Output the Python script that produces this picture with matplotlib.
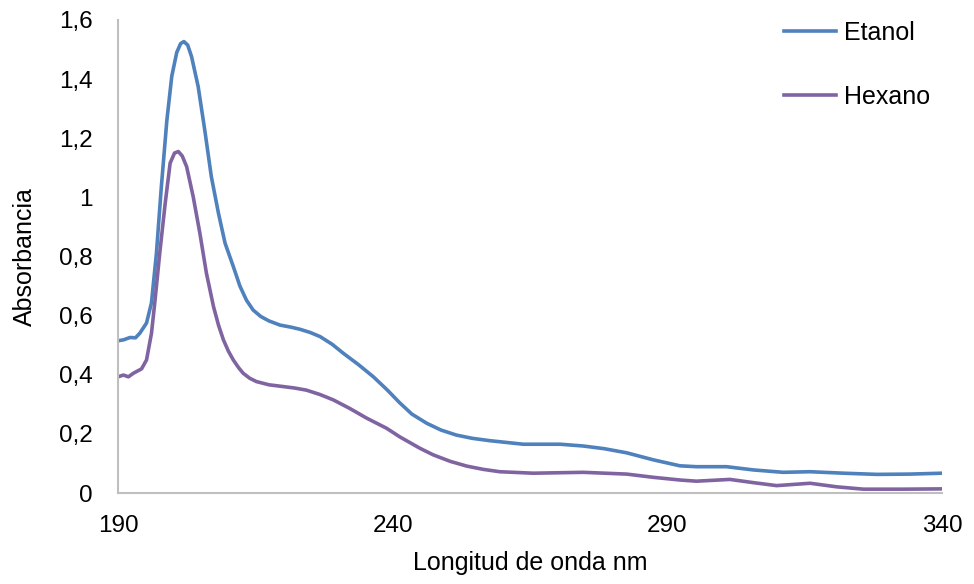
import matplotlib
matplotlib.use("Agg")
import matplotlib.pyplot as plt
from matplotlib.ticker import FuncFormatter, MultipleLocator

plt.rcParams["font.family"] = ["Liberation Sans", "DejaVu Sans"]

# wavelength (nm) and absorbance
etanol_nm = [190, 191, 192.2, 193.2, 194.0, 195.2, 196.1, 197.0, 197.9, 198.9,
             199.8, 200.7, 201.4, 202.0, 202.7, 203.4, 204.6, 205.8, 207.0, 208.3,
             209.5, 211.0, 212.2, 213.4, 214.6, 216.0, 217.5, 219.5, 221.5, 223.1,
             225.0, 226.8, 229.0, 231.0, 233.8, 236.5, 239.0, 241.3, 243.5, 246.2,
             248.8, 251.6, 254.5, 257.7, 263.8, 270.5, 274.7, 278.5, 282.6, 287.5,
             292.3, 295.3, 300.8, 305.7, 311.1, 316.0, 322.1, 328.2, 334.2, 340]
etanol_abs = [0.515, 0.518, 0.526, 0.525, 0.541, 0.575, 0.643, 0.81, 1.036, 1.26,
              1.41, 1.49, 1.52, 1.527, 1.515, 1.476, 1.375, 1.228, 1.07, 0.946,
              0.845, 0.766, 0.70, 0.652, 0.619, 0.597, 0.582, 0.568, 0.561, 0.554,
              0.543, 0.529, 0.503, 0.473, 0.434, 0.393, 0.349, 0.305, 0.267, 0.236,
              0.213, 0.196, 0.185, 0.177, 0.165, 0.165, 0.159, 0.150, 0.136, 0.112,
              0.092, 0.089, 0.089, 0.078, 0.070, 0.072, 0.067, 0.063, 0.064, 0.067]

hexano_nm = [190, 191, 191.9, 192.8, 194.3, 195.2, 196.1, 196.7, 197.6, 198.6,
             199.5, 200.3, 201.0, 201.7, 202.5, 203.7, 204.9, 206.1, 207.4, 208.3,
             209.2, 210.1, 211.0, 212.0, 212.8, 214.0, 215.2, 217.5, 220.1, 222.2,
             224.3, 226.8, 229.2, 232.2, 235.3, 238.9, 241.3, 245.0, 247.4, 250.5,
             253.5, 256.5, 259.5, 265.6, 274.7, 282.6, 287.5, 292.3, 295.3, 301.4,
             305.7, 309.9, 316.0, 320.8, 325.7, 333.0, 340]
hexano_abs = [0.393, 0.399, 0.393, 0.405, 0.42, 0.45, 0.54, 0.643, 0.81, 0.98,
              1.116, 1.15, 1.155, 1.14, 1.104, 1.002, 0.88, 0.744, 0.63, 0.568,
              0.518, 0.480, 0.450, 0.423, 0.405, 0.388, 0.377, 0.366, 0.36, 0.355,
              0.348, 0.333, 0.315, 0.286, 0.253, 0.219, 0.19, 0.151, 0.129, 0.107,
              0.091, 0.080, 0.072, 0.067, 0.070, 0.064, 0.053, 0.044, 0.040, 0.046,
              0.035, 0.025, 0.033, 0.021, 0.013, 0.013, 0.014]

x_ticks = [190, 240, 290, 340]


def comma_fmt(v, pos):
    return f"{v:g}".replace(".", ",")


fig = plt.figure(figsize=(9.74, 5.84), dpi=100)
ax = fig.add_axes([0.1211, 0.1558, 0.846, 0.81])

ax.plot(etanol_nm, etanol_abs, color="#4F81BD", lw=2.6, label="Etanol")
ax.plot(hexano_nm, hexano_abs, color="#8064A2", lw=2.6, label="Hexano")

ax.set_xlim(190, 340)
ax.set_ylim(0, 1.6)
ax.set_xticks(x_ticks)
ax.yaxis.set_major_locator(MultipleLocator(0.2))
ax.yaxis.set_major_formatter(FuncFormatter(comma_fmt))
ax.tick_params(length=0, labelsize=17.5, colors="black")
ax.tick_params(axis="y", pad=18)
ax.tick_params(axis="x", pad=16)

for side in ["top", "right"]:
    ax.spines[side].set_visible(False)
for side in ["left", "bottom"]:
    ax.spines[side].set_color("#BFBFBF")
    ax.spines[side].set_linewidth(1.5)

ax.set_xlabel("Longitud de onda nm", fontsize=18, labelpad=10)
ax.set_ylabel("Absorbancia", fontsize=18, labelpad=16)

ax.legend(loc="upper left", bbox_to_anchor=(0.781, 1.045), frameon=False,
          fontsize=18, handlelength=2.1, labelspacing=1.6, handletextpad=0.3)

fig.savefig("out.png", dpi=100)
